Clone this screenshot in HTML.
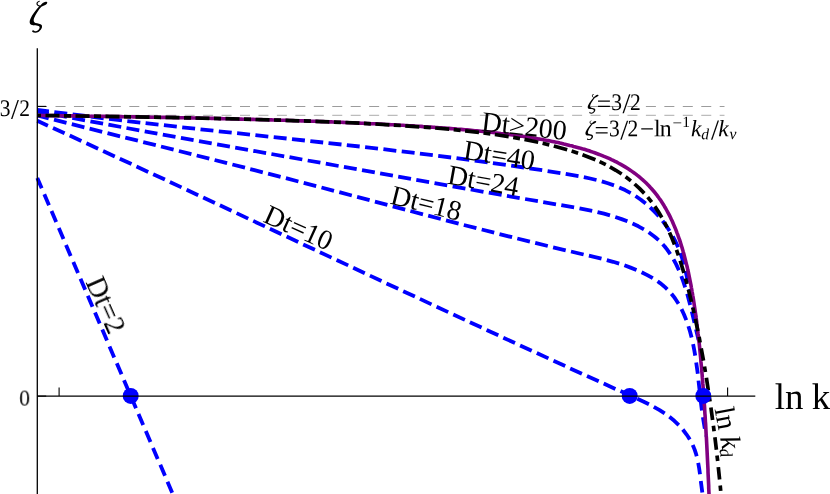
<!DOCTYPE html>
<html><head><meta charset="utf-8"><title>zeta vs ln k</title>
<style>
html,body{margin:0;padding:0;background:#fff;}
body{width:830px;height:494px;overflow:hidden;}
svg{display:block;}
text{font-family:"Liberation Serif",serif;fill:#000;}
.it{font-style:italic;}
</style></head><body>
<svg width="830" height="494" viewBox="0 0 830 494">
<rect x="0" y="0" width="830" height="494" fill="#ffffff"/>
<g stroke-width="1" fill="none" stroke-dasharray="10 8.45">
<path d="M37.05 106.5 H724.5" stroke="#9c9c9c"/>
<path d="M37.05 115.3 H724.5" stroke="#acacac"/>
</g>
<g stroke="#0000ff" stroke-width="3.8" fill="none" stroke-linejoin="round">
<path d="M37.3 178.0L41.7 188.3M44.3 194.2L49.0 205.2M51.5 211.1L56.2 222.1M58.8 228.1L63.5 239.1M66.0 245.0L70.7 256.0M73.3 261.9L78.0 272.9M80.5 278.8L85.2 289.8M87.8 295.7L92.5 306.7M95.0 312.6L99.7 323.6M102.3 329.5L107.0 340.5M109.5 346.4L114.2 357.4M116.8 363.3L121.5 374.3M124.0 380.3L128.7 391.3M131.3 397.2L136.0 408.2M138.5 414.1L143.2 425.1M145.8 431.0L150.5 442.0M153.0 447.9L157.7 458.9M160.3 464.8L165.0 475.8M167.5 481.7L172.2 492.7"/>
<path d="M37.3 120.8L47.9 125.7M53.0 128.0L64.6 133.3M69.7 135.6L81.4 141.0M86.4 143.3L98.1 148.7M103.1 151.0L114.8 156.4M119.8 158.7L131.5 164.1M136.5 166.5L148.2 171.9M153.2 174.2L164.9 179.6M169.9 182.0L181.5 187.4M186.6 189.8L198.2 195.2M203.2 197.5L214.9 203.0M219.9 205.3L231.5 210.8M236.6 213.1L248.2 218.6M253.2 220.9L264.9 226.4M269.9 228.7L281.5 234.2M286.6 236.5L298.2 242.0M303.2 244.4L314.9 249.8M319.9 252.2L331.5 257.6M336.6 260.0L348.2 265.4M353.2 267.8L364.8 273.2M369.9 275.6L381.5 281.0M386.5 283.4L398.2 288.8M403.2 291.2L414.9 296.6M419.9 298.9L431.5 304.4M436.6 306.7L448.2 312.1M453.3 314.5L464.9 319.9M469.9 322.2L481.6 327.6M486.6 329.9L498.3 335.3M503.3 337.7L515.0 343.0M520.1 345.4L531.7 350.7M536.8 353.0L548.4 358.4M553.5 360.7L565.2 366.0M570.2 368.4L581.9 373.7M587.0 376.0L598.7 381.3M603.7 383.6L615.4 388.9M620.5 391.1L632.2 396.4M637.3 398.7L643.8 401.7L648.9 404.2M653.8 406.8L659.6 410.1L664.7 413.4M669.4 416.8L674.3 420.8L678.8 425.1M682.8 429.5L686.4 434.3L688.1 436.8L689.8 439.6M692.7 445.1L693.8 447.6L694.9 450.3L695.8 453.1L696.7 456.3M698.2 462.9L699.1 468.0L700.0 474.3M700.8 481.1L702.3 492.6"/>
<path d="M37.3 115.5L48.7 118.4M54.0 119.7L66.5 122.9M71.8 124.2L84.4 127.3M89.6 128.7L102.2 131.8M107.5 133.1L120.1 136.3M125.3 137.6L137.9 140.7M143.2 142.1L155.8 145.2M161.0 146.5L173.6 149.7M178.9 151.0L191.4 154.2M196.7 155.5L209.3 158.7M214.6 160.0L227.1 163.2M232.4 164.5L245.0 167.7M250.2 169.1L262.8 172.3M268.1 173.6L280.6 176.9M285.9 178.2L298.4 181.5M303.7 182.9L316.2 186.1M321.5 187.5L334.0 190.8M339.3 192.2L351.8 195.5M357.1 196.9L369.6 200.2M374.9 201.6L387.4 204.9M392.7 206.3L405.2 209.6M410.4 211.0L423.0 214.3M428.2 215.7L440.8 219.0M446.0 220.3L458.6 223.6M463.8 225.0L476.4 228.2M481.7 229.5L494.2 232.7M499.5 234.1L512.1 237.2M517.3 238.5L529.9 241.6M535.2 242.9L547.8 246.0M553.1 247.3L565.7 250.3M571.0 251.5L583.6 254.5M588.9 255.7L601.5 258.7M606.8 260.1L613.1 261.8L619.2 263.6M624.4 265.3L630.6 267.6L636.5 269.9M641.6 272.2L647.3 275.1L652.8 278.2M657.6 281.3L660.1 283.1L662.8 285.2L665.0 287.1L667.3 289.3M671.4 293.7L673.4 296.2L675.1 298.5L678.5 303.7M681.5 309.1L683.9 314.2L686.3 320.1M688.4 326.3L690.1 331.8L691.6 337.6M693.1 344.2L694.2 349.8L695.2 355.6M696.2 362.4L697.8 373.8M698.5 380.6L699.8 392.1M700.5 398.9L701.9 410.4M702.9 417.2L704.8 428.6M706.1 435.2L706.3 436.0"/>
<path d="M37.3 111.5L48.8 113.7M54.2 114.7L66.9 117.0M72.3 118.0L85.0 120.4M90.4 121.4L103.1 123.7M108.4 124.7L121.2 127.0M126.5 128.0L139.3 130.3M144.7 131.3L157.4 133.6M162.8 134.6L175.5 136.9M180.9 137.8L193.6 140.1M199.0 141.1L211.7 143.4M217.1 144.3L229.9 146.6M235.2 147.6L248.0 149.8M253.3 150.8L266.1 153.1M271.4 154.0L284.2 156.3M289.5 157.2L302.3 159.5M307.7 160.5L320.4 162.7M325.8 163.7L338.6 166.0M343.9 166.9L356.7 169.2M362.0 170.1L374.8 172.4M380.1 173.4L392.9 175.7M398.2 176.6L411.0 178.9M416.3 179.9L429.1 182.1M434.5 183.1L447.2 185.3M452.6 186.3L465.4 188.6M470.7 189.5L483.5 191.8M488.8 192.7L501.6 194.9M506.9 195.9L519.7 198.1M525.1 199.0L537.9 201.2M543.2 202.1L556.0 204.3M561.3 205.2L574.1 207.4M579.5 208.4L592.2 210.9M597.5 212.1L604.0 213.7L610.0 215.4M615.3 217.0L621.6 219.1L627.4 221.3M632.5 223.5L638.4 226.3L643.9 229.3M648.7 232.3L651.3 234.2L654.0 236.2L656.2 238.0L658.6 240.1M662.7 244.3L664.7 246.5L666.8 249.2L670.3 254.1M673.5 259.4L676.2 264.4L678.9 270.2M681.3 276.2L683.3 281.6L685.2 287.4M687.2 293.7L690.2 305.0M691.8 311.5L694.5 322.9M696.0 329.4L698.6 340.0"/>
<path d="M37.3 109.8L48.9 111.3M54.3 112.1L67.2 113.7M72.6 114.4L85.4 116.0M90.8 116.7L103.7 118.3M109.1 118.9L122.0 120.4M127.3 121.1L140.3 122.6M145.6 123.2L158.5 124.6M163.9 125.2L176.8 126.7M182.2 127.3L195.1 128.7M200.5 129.3L213.4 130.7M218.8 131.3L231.7 132.7M237.1 133.2L250.0 134.6M255.4 135.2L268.3 136.6M273.7 137.1L286.6 138.5M292.0 139.1L304.9 140.5M310.3 141.1L323.2 142.5M328.5 143.1L341.5 144.5M346.8 145.1L359.7 146.5M365.1 147.1L378.0 148.6M383.4 149.2L396.3 150.8M401.7 151.4L414.6 152.9M419.9 153.6L432.8 155.2M438.2 155.9L451.1 157.5M456.5 158.2L469.3 159.9M474.7 160.6L487.6 162.3M492.9 163.1L505.8 164.9M511.2 165.6L524.0 167.5M529.4 168.3L542.2 170.2M547.6 171.1L560.4 173.1M565.7 173.9L578.5 176.1M583.8 177.2L590.2 178.5L596.5 180.0M601.8 181.4L607.9 183.3L614.0 185.4M619.2 187.4L625.1 190.1L630.7 193.1M635.5 196.0L640.9 199.7L645.7 203.5M650.1 207.3L654.5 211.7L658.8 216.3M662.6 220.9L666.2 225.8L669.6 231.0M672.8 236.4L675.6 241.7L678.1 247.2M680.4 253.2L682.2 258.5L684.0 264.5M685.6 271.0L688.1 282.4M689.4 289.0L691.8 300.4M693.2 307.0L695.8 318.0"/>
</g>
<path d="M37.3 115.4 39.3 115.5 41.3 115.5 43.3 115.5 45.3 115.5 47.3 115.6 49.3 115.6 51.3 115.6 53.3 115.6 55.3 115.7 57.3 115.7 59.3 115.7 61.3 115.8 63.3 115.8 65.3 115.8 67.3 115.8 69.3 115.9 71.3 115.9 73.3 115.9 75.3 115.9 77.3 116.0 79.3 116.0 81.3 116.0 83.3 116.1 85.3 116.1 87.3 116.1 89.3 116.2 91.3 116.2 93.3 116.2 95.3 116.2 97.3 116.3 99.3 116.3 101.3 116.3 103.3 116.4 105.3 116.4 107.3 116.4 109.3 116.5 111.3 116.5 113.3 116.5 115.3 116.6 117.3 116.6 119.3 116.6 121.3 116.6 123.3 116.7 125.3 116.7 127.3 116.7 129.3 116.8 131.3 116.8 133.3 116.9 135.3 116.9 137.3 116.9 139.3 117.0 141.3 117.0 143.3 117.0 145.3 117.1 147.3 117.1 149.3 117.1 151.3 117.2 153.3 117.2 155.3 117.2 157.3 117.3 159.3 117.3 161.3 117.4 163.3 117.4 165.3 117.4 167.3 117.5 169.3 117.5 171.3 117.5 173.3 117.6 175.3 117.6 177.3 117.7 179.3 117.7 181.3 117.7 183.3 117.8 185.3 117.8 187.3 117.9 189.3 117.9 191.3 117.9 193.3 118.0 195.3 118.0 197.3 118.1 199.3 118.1 201.3 118.2 203.3 118.2 205.3 118.3 207.3 118.3 209.3 118.3 211.3 118.4 213.3 118.4 215.3 118.5 217.3 118.5 219.3 118.6 221.3 118.6 223.3 118.7 225.3 118.7 227.3 118.8 229.3 118.8 231.3 118.9 233.3 118.9 235.3 119.0 237.3 119.0 239.3 119.1 241.3 119.1 243.3 119.2 245.3 119.2 247.3 119.3 249.3 119.3 251.3 119.4 253.3 119.4 255.3 119.5 257.3 119.5 259.3 119.6 261.3 119.6 263.3 119.7 265.3 119.8 267.3 119.8 269.3 119.9 271.3 119.9 273.3 120.0 275.3 120.0 277.3 120.1 279.3 120.2 281.3 120.2 283.2 120.3 285.2 120.3 287.2 120.4 289.2 120.5 291.2 120.5 293.2 120.6 295.2 120.7 297.2 120.7 299.2 120.8 301.2 120.9 303.2 120.9 305.2 121.0 307.2 121.1 309.2 121.1 311.2 121.2 313.2 121.3 315.2 121.3 317.2 121.4 319.2 121.5 321.2 121.6 323.2 121.6 325.2 121.7 327.2 121.8 329.2 121.9 331.2 121.9 333.2 122.0 335.2 122.1 337.2 122.2 339.2 122.3 341.2 122.3 343.2 122.4 345.2 122.5 347.2 122.6 349.2 122.7 351.2 122.7 353.2 122.8 355.2 122.9 357.2 123.0 359.2 123.1 361.2 123.2 363.2 123.3 365.2 123.4 367.2 123.5 369.2 123.6 371.2 123.7 373.2 123.7 375.2 123.8 377.2 123.9 379.2 124.0 381.2 124.1 383.2 124.2 385.2 124.4 387.2 124.5 389.2 124.6 391.2 124.7 393.2 124.8 395.2 124.9 397.2 125.0 399.1 125.1 401.1 125.2 403.1 125.3 405.1 125.5 407.1 125.6 409.1 125.7 411.1 125.8 413.1 125.9 415.1 126.1 417.1 126.2 419.1 126.3 421.1 126.4 423.1 126.6 425.1 126.7 427.1 126.8 429.1 127.0 431.1 127.1 433.1 127.2 435.1 127.4 437.1 127.5 439.1 127.7 441.1 127.8 443.1 128.0 445.0 128.1 447.0 128.3 449.0 128.4 451.0 128.6 453.0 128.8 455.0 128.9 457.0 129.1 459.0 129.2 461.0 129.4 463.0 129.6 465.0 129.8 467.0 129.9 469.0 130.1 471.0 130.3 472.9 130.5 474.9 130.7 476.9 130.9 478.9 131.1 480.9 131.3 482.9 131.5 484.9 131.7 486.9 131.9 488.9 132.1 490.9 132.3 492.8 132.5 494.8 132.8 496.8 133.0 498.8 133.2 500.8 133.5 502.8 133.7 504.8 133.9 506.8 134.2 508.7 134.4 510.7 134.7 512.7 135.0 514.7 135.2 516.7 135.5 518.6 135.8 520.6 136.1 522.6 136.3 524.6 136.6 526.6 136.9 528.5 137.2 530.5 137.5 532.5 137.9 534.5 138.2 536.4 138.5 538.4 138.9 540.4 139.2 542.4 139.5 544.3 139.9 546.3 140.3 548.3 140.6 550.2 141.0 552.2 141.4 554.1 141.8 556.1 142.2 558.1 142.6 560.0 143.1 562.0 143.5 563.9 144.0 565.9 144.4 567.8 144.9 569.8 145.4 571.7 145.8 573.6 146.4 575.6 146.9 577.5 147.4 579.4 147.9 581.3 148.5 583.3 149.1 585.2 149.6 587.1 150.2 589.0 150.8 590.9 151.5 592.8 152.1 594.7 152.8 596.6 153.5 598.5 154.2 600.3 154.9 602.2 155.6 604.0 156.4 605.9 157.1 607.7 157.9 609.6 158.7 611.4 159.6 613.2 160.4 615.0 161.3 616.8 162.2 618.6 163.2 620.3 164.1 622.1 165.1 623.8 166.1 625.5 167.1 627.3 168.2 628.9 169.3 630.6 170.4 632.3 171.6 633.9 172.7 635.5 173.9 637.1 175.2 638.7 176.4 640.2 177.7 641.8 179.0 643.3 180.4 644.8 181.7 646.2 183.1 647.6 184.5 649.1 186.0 650.4 187.5 651.8 189.0 653.1 190.5 654.4 192.0 655.7 193.6 656.9 195.2 658.1 196.8 659.3 198.5 660.5 200.1 661.6 201.8 662.7 203.5 663.8 205.2 664.8 207.0 665.8 208.7 666.8 210.5 667.8 212.3 668.8 214.1 669.7 215.9 670.6 217.7 671.4 219.5 672.3 221.3 673.1 223.2 673.9 225.1 674.7 226.9 675.5 228.8 676.2 230.7 676.9 232.6 677.7 234.5 678.3 236.4 679.0 238.3 679.7 240.2 680.3 242.1 680.9 244.1 681.5 246.0 682.1 247.9 682.7 249.9 683.2 251.8 683.8 253.8 684.3 255.7 684.8 257.7 685.3 259.6 685.8 261.6 686.3 263.6 686.8 265.5 687.3 267.5 687.7 269.5 688.2 271.5 688.6 273.4 689.0 275.4 689.4 277.4 689.8 279.4 690.2 281.4 690.6 283.3 691.0 285.3 691.3 287.3 691.7 289.3 692.0 291.3 692.4 293.3 692.7 295.3 693.1 297.3 693.4 299.3 693.7 301.3 694.0 303.3 694.3 305.3 694.6 307.3 694.9 309.3 695.2 311.2 695.5 313.2 695.8 315.2 696.0 317.2 696.3 319.3 696.6 321.3 696.8 323.3 697.1 325.3 697.3 327.3 697.6 329.3 697.8 331.3 698.0 333.3 698.3 335.3 698.5 337.3 698.7 339.3 698.9 341.3 699.2 343.3 699.4 345.3 699.6 347.3 699.8 349.3 700.0 351.3 700.2 353.3 700.4 355.3 700.6 357.3 700.8 359.3 700.9 361.4 701.1 363.4 701.3 365.4 701.5 367.4 701.7 369.4 701.8 371.4 702.0 373.4 702.2 375.4 702.3 377.4 702.5 379.4 702.7 381.4 702.8 383.4 703.0 385.4 703.1 387.5 703.3 389.5 703.4 391.5 703.6 393.5 703.7 395.5 703.9 397.5 704.0 399.5 704.1 401.5 704.3 403.5 704.4 405.5 704.6 407.5 704.7 409.6 704.8 411.6 704.9 413.6 705.1 415.6 705.2 417.6 705.3 419.6 705.4 421.6 705.6 423.6 705.7 425.6 705.8 427.6 705.9 429.6 706.0 431.7 706.1 433.7 706.2 435.7 706.4 437.7 706.5 439.7 706.6 441.7 706.7 443.7 706.8 445.7 706.9 447.7 707.0 449.7 707.1 451.7 707.2 453.8 707.3 455.8 707.4 457.8 707.5 459.8 707.6 461.8 707.7 463.8 707.8 465.8 707.9 467.8 708.0 469.8 708.0 471.8 708.1 473.8 708.2 475.9 708.3 477.9 708.4 479.9 708.5 481.9 708.6 483.9 708.7 485.9 708.7 487.9 708.8 489.9 708.9 491.9 709.0 493.9 709.1 495.9 709.1 497.9" stroke="#800080" stroke-width="3.6" fill="none"/>
<path d="M37.3 115.4L41.0 115.5M45.5 115.5L59.5 115.7M64.0 115.8L71.0 115.9M75.5 116.0L89.5 116.2M94.0 116.2L101.0 116.4M105.5 116.4L119.5 116.6M124.0 116.7L131.0 116.8M135.5 116.9L149.5 117.1M154.0 117.2L161.0 117.3M165.5 117.4L179.5 117.7M184.0 117.8L191.0 117.9M195.5 118.0L209.5 118.3M214.0 118.4L221.0 118.6M225.5 118.7L239.5 119.0M244.0 119.2L251.0 119.3M255.5 119.5L269.5 119.9M274.0 120.0L281.0 120.2M285.5 120.3L299.4 120.8M303.9 120.9L310.9 121.2M315.4 121.4L329.4 121.9M333.9 122.1L340.9 122.3M345.4 122.5L359.4 123.2M363.9 123.4L370.9 123.8M375.4 124.0L389.4 124.8M393.8 125.1L400.8 125.5M405.3 125.8L419.3 126.8M423.8 127.1L430.8 127.7M435.2 128.0L449.2 129.2M453.7 129.7L460.6 130.3M465.1 130.8L479.0 132.4M483.5 132.9L490.4 133.9M494.9 134.5L508.7 136.6M513.2 137.4L520.0 138.6M524.5 139.4L538.2 142.3M542.6 143.3L549.3 144.9M553.8 146.0L567.2 149.8M571.6 151.1L578.1 153.2M582.5 154.8L588.9 157.2L595.4 159.8M599.6 161.7L605.8 164.7M609.9 166.9L615.8 170.3L621.7 174.0M625.6 176.8L630.9 180.9M634.6 184.0L639.7 188.7L644.3 193.4M647.7 197.2L651.7 202.2M654.8 206.4L658.3 211.6L661.8 217.5M664.4 222.2L667.2 227.6M669.5 232.6L672.0 238.2L674.5 244.5M676.5 249.8L678.4 255.3M680.2 260.7L683.9 272.9M685.4 278.5L687.0 284.0M688.4 289.6L691.5 301.9M692.8 307.6L694.1 313.1M695.3 318.8L697.9 331.2M699.1 336.9L700.1 342.5M701.2 348.3L703.5 360.7M704.5 366.5L705.4 372.0M706.4 377.8L708.3 390.2M709.2 396.1L710.0 401.6M710.9 407.5L712.6 419.9M713.4 425.8L714.1 431.3M714.9 437.3L716.4 449.7M717.0 455.6L717.7 461.1M718.3 467.1L719.6 479.5M720.2 485.5L720.7 490.9" stroke="#000" stroke-width="3.7" fill="none"/>
<circle cx="130.7" cy="395.9" r="8" fill="#0000ff"/>
<circle cx="629.7" cy="395.9" r="8" fill="#0000ff"/>
<circle cx="703.3" cy="395.9" r="8" fill="#0000ff"/>
<g stroke="#000" fill="none">
<path d="M37.3 48.3 V494" stroke-width="1.3"/>
<path d="M37.3 396.1 H755.3" stroke-width="1.2"/>
<path d="M37.3 106.4 H46.2" stroke-width="1.1"/>
<path d="M37.3 396.1 H46.2" stroke-width="1.1"/>
<path d="M59.1 396.1 V387.6" stroke-width="1.1"/>
<path d="M727.6 396.1 V387.6" stroke-width="1.1"/>
</g>
<g style="will-change:opacity">
<path d="M 47.26 2.77 C 47.12 4.51 44.21 5.53 41.37 6.70 C 38.75 9.46 35.83 13.83 34.01 18.20 C 33.28 20.39 33.65 22.21 35.47 22.93 C 37.65 23.44 40.57 23.44 41.66 25.12 C 42.75 27.30 41.29 30.21 38.38 32.03 C 36.20 33.13 33.65 32.76 32.05 31.74 L 32.92 29.70 C 34.01 31.31 36.20 31.67 37.65 30.58 C 39.47 29.12 40.20 27.30 39.11 26.21 C 37.65 25.12 33.65 25.85 31.10 24.75 C 29.28 23.66 29.28 21.11 30.37 18.93 C 32.19 14.56 36.20 9.46 39.33 6.26 C 37.87 6.26 36.42 5.10 36.42 3.64 C 36.42 2.04 38.02 0.95 39.91 0.73 L 39.91 1.46 C 38.45 1.82 37.51 2.77 37.65 3.79 C 37.80 4.95 39.11 5.68 40.35 5.39 C 41.80 3.79 43.55 1.89 45.73 1.75 C 46.61 1.67 47.34 2.04 47.26 2.77 Z" fill="#000"/>
<text transform="translate(774.7 408.9) rotate(0.05)" font-size="37" word-spacing="-0.9">ln k</text>
<text transform="translate(-0.17 115.90) rotate(0.05) scale(0.900 1)" font-size="23.9">3</text>
<text transform="translate(11.04 118.80) rotate(0.05) scale(1.000 1)" font-size="28.5">/</text>
<text transform="translate(19.14 115.90) rotate(0.05) scale(0.900 1)" font-size="23.9">2</text>
<text transform="translate(19.22 405.60) rotate(0.05) scale(0.900 1)" font-size="23.9">0</text>
<path d="M 47.26 2.77 C 47.12 4.51 44.21 5.53 41.37 6.70 C 38.75 9.46 35.83 13.83 34.01 18.20 C 33.28 20.39 33.65 22.21 35.47 22.93 C 37.65 23.44 40.57 23.44 41.66 25.12 C 42.75 27.30 41.29 30.21 38.38 32.03 C 36.20 33.13 33.65 32.76 32.05 31.74 L 32.92 29.70 C 34.01 31.31 36.20 31.67 37.65 30.58 C 39.47 29.12 40.20 27.30 39.11 26.21 C 37.65 25.12 33.65 25.85 31.10 24.75 C 29.28 23.66 29.28 21.11 30.37 18.93 C 32.19 14.56 36.20 9.46 39.33 6.26 C 37.87 6.26 36.42 5.10 36.42 3.64 C 36.42 2.04 38.02 0.95 39.91 0.73 L 39.91 1.46 C 38.45 1.82 37.51 2.77 37.65 3.79 C 37.80 4.95 39.11 5.68 40.35 5.39 C 41.80 3.79 43.55 1.89 45.73 1.75 C 46.61 1.67 47.34 2.04 47.26 2.77 Z" fill="#000" transform="translate(569.49 93.56) scale(0.615)"/>
<text transform="translate(596.75 112.30) rotate(0.05) scale(1.000 1)" font-size="25.5">=</text>
<text transform="translate(611.23 109.90) rotate(0.05) scale(0.900 1)" font-size="23.9">3</text>
<text transform="translate(622.53 113.10) rotate(0.05) scale(1.000 1)" font-size="28.6">/</text>
<text transform="translate(629.89 109.90) rotate(0.05) scale(0.900 1)" font-size="23.9">2</text>
<path d="M 47.26 2.77 C 47.12 4.51 44.21 5.53 41.37 6.70 C 38.75 9.46 35.83 13.83 34.01 18.20 C 33.28 20.39 33.65 22.21 35.47 22.93 C 37.65 23.44 40.57 23.44 41.66 25.12 C 42.75 27.30 41.29 30.21 38.38 32.03 C 36.20 33.13 33.65 32.76 32.05 31.74 L 32.92 29.70 C 34.01 31.31 36.20 31.67 37.65 30.58 C 39.47 29.12 40.20 27.30 39.11 26.21 C 37.65 25.12 33.65 25.85 31.10 24.75 C 29.28 23.66 29.28 21.11 30.37 18.93 C 32.19 14.56 36.20 9.46 39.33 6.26 C 37.87 6.26 36.42 5.10 36.42 3.64 C 36.42 2.04 38.02 0.95 39.91 0.73 L 39.91 1.46 C 38.45 1.82 37.51 2.77 37.65 3.79 C 37.80 4.95 39.11 5.68 40.35 5.39 C 41.80 3.79 43.55 1.89 45.73 1.75 C 46.61 1.67 47.34 2.04 47.26 2.77 Z" fill="#000" transform="translate(567.19 119.96) scale(0.615)"/>
<text transform="translate(594.45 138.70) rotate(0.05) scale(1.000 1)" font-size="25.5">=</text>
<text transform="translate(608.93 136.30) rotate(0.05) scale(0.900 1)" font-size="23.9">3</text>
<text transform="translate(620.23 139.50) rotate(0.05) scale(1.000 1)" font-size="28.6">/</text>
<text transform="translate(627.59 136.30) rotate(0.05) scale(0.900 1)" font-size="23.9">2</text>
<text transform="translate(639.89 137.30) rotate(0.05) scale(1.000 1)" font-size="25.0">−</text>
<text transform="translate(653.99 136.30) rotate(0.05) scale(1.000 1)" font-size="23.8">l</text>
<text transform="translate(659.71 136.30) rotate(0.05) scale(1.000 1)" font-size="23.8">n</text>
<text transform="translate(672.40 128.60) rotate(0.05) scale(1.000 1)" font-size="17.0">−</text>
<text transform="translate(682.26 126.90) rotate(0.05) scale(1.000 1)" font-size="15.5">1</text>
<text transform="translate(691.10 136.30) rotate(0.05) scale(1.000 1)" font-size="23.4" class="it">k</text>
<text transform="translate(701.24 139.30) rotate(0.05) scale(1.000 1)" font-size="15.6" class="it">d</text>
<text transform="translate(711.10 139.60) rotate(0.05) scale(1.000 1)" font-size="28.8">/</text>
<text transform="translate(718.30 136.30) rotate(0.05) scale(1.000 1)" font-size="23.4" class="it">k</text>
<text transform="translate(729.53 138.90) rotate(0.05) scale(1.000 1)" font-size="15.6" class="it">ν</text>
<text transform="translate(480.8 130.4) rotate(6.5)" font-size="28">Dt≥200</text>
<text transform="translate(462.5 158.7) rotate(9.0)" font-size="28">Dt=40</text>
<text transform="translate(446.4 183.4) rotate(10.3)" font-size="28">Dt=24</text>
<text transform="translate(389.3 203.4) rotate(14.0)" font-size="28">Dt=18</text>
<text transform="translate(262.1 221.5) rotate(24.2)" font-size="28">Dt=10</text>
<text transform="translate(85.3 282.0) rotate(66.2)" font-size="28.5">Dt=2</text>
<text transform="translate(714.5 409.0) rotate(79.2)" font-size="28.5">ln <tspan class="it">k</tspan><tspan class="it" font-size="17.5" dy="2.8" dx="-1.2">d</tspan></text>
</g>
</svg></body></html>
